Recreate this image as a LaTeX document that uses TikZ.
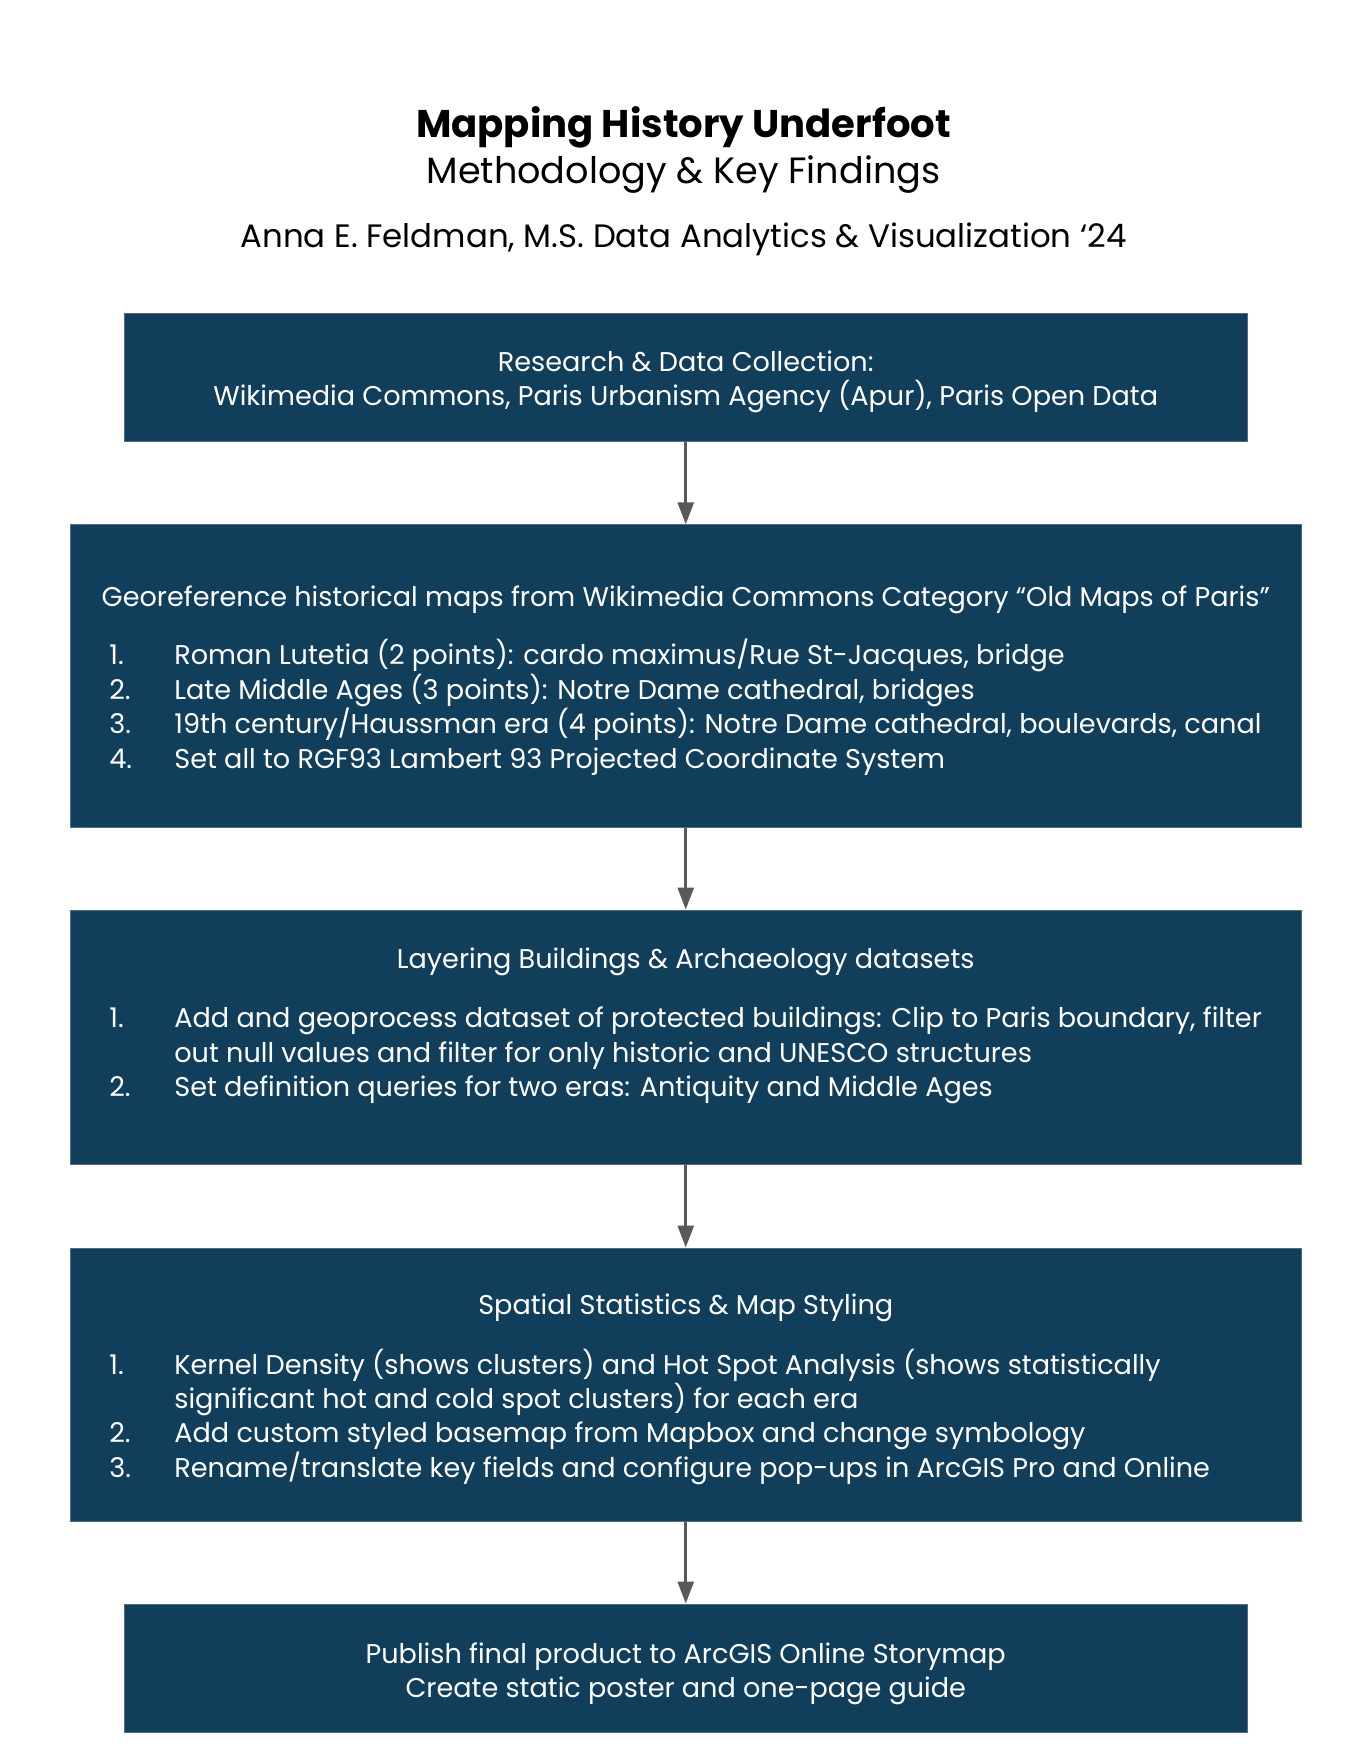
\documentclass[tikz,border=0pt]{standalone}
\usepackage{fontspec}
\setmainfont{Poppins}
\usetikzlibrary{arrows.meta}
\definecolor{boxc}{RGB}{17,63,91}
\definecolor{boxedge}{RGB}{80,110,130}
\definecolor{arrc}{RGB}{89,89,89}
\begin{document}
\begin{tikzpicture}[x=0.5pt,y=-0.5pt,
  boxstyle/.style={fill=boxc, draw=boxedge, line width=0.5pt, inner sep=0pt},
  bodytxt/.style={text=white, inner sep=0pt, font=\fontsize{13.55}{16}\selectfont},
  ctxt/.style={bodytxt, anchor=mid},
  ltxt/.style={bodytxt, anchor=mid west},
  flow/.style={draw=arrc, line width=1.5pt, -{Triangle[width=8pt,length=11pt]}}]
\useasboundingbox (0,0) rectangle (1367,1760);
\fill[white] (0,0) rectangle (1367,1760);
% titles
\node[anchor=mid, inner sep=0pt, font=\fontsize{19.3}{23}\bfseries\selectfont] (title) at (683.5,132) {Mapping History Underfoot};
\node[anchor=mid, inner sep=0pt, font=\fontsize{18.3}{22}\selectfont] (subtitle) at (683.5,178) {Methodology \& Key Findings};
\node[anchor=mid, inner sep=0pt, font=\fontsize{16.2}{19}\selectfont] (author) at (683.5,242.5) {Anna E. Feldman, M.S. Data Analytics \& Visualization ‘24};
% boxes
\node[boxstyle, minimum width=561.75pt, minimum height=63.65pt] (b1) at (685.75,377.35) {};
\node[boxstyle, minimum width=615.75pt, minimum height=151.25pt] (b2) at (685.75,676) {};
\node[boxstyle, minimum width=615.75pt, minimum height=127.25pt] (b3) at (685.75,1037.25) {};
\node[boxstyle, minimum width=615.75pt, minimum height=136.5pt] (b4) at (685.75,1384.5) {};
\node[boxstyle, minimum width=561.75pt, minimum height=64pt] (b5) at (685.75,1668) {};
% arrows
\draw[flow] (b1.south) -- (b2.north);
\draw[flow] (b2.south) -- (b3.north);
\draw[flow] (b3.south) -- (b4.north);
\draw[flow] (b4.south) -- (b5.north);
% box 1
\node[ctxt] (b1a) at (685.75,366.5) {Research \& Data Collection:};
\node[ctxt] (b1b) at (685.75,400.5) {Wikimedia Commons, Paris Urbanism Agency (Apur), Paris Open Data};
% box 2
\node[ctxt] (b2h) at (685.75,601.5) {Georeference historical maps from Wikimedia Commons Category “Old Maps of Paris”};
\node[ltxt] (b2n1) at (109,659.5) {1.};
\node[ltxt] (b2t1) at (174,659.5) {Roman Lutetia (2 points): cardo maximus/Rue St-Jacques, bridge};
\node[ltxt] (b2n2) at (109,694) {2.};
\node[ltxt] (b2t2) at (174,694) {Late Middle Ages (3 points): Notre Dame cathedral, bridges};
\node[ltxt] (b2n3) at (109,728.5) {3.};
\node[ltxt] (b2t3) at (174,728.5) {19th century/Haussman era (4 points): Notre Dame cathedral, boulevards, canal};
\node[ltxt] (b2n4) at (109,763) {4.};
\node[ltxt] (b2t4) at (174,763) {Set all to RGF93 Lambert 93 Projected Coordinate System};
% box 3
\node[ctxt] (b3h) at (685.75,963.5) {Layering Buildings \& Archaeology datasets};
\node[ltxt] (b3n1) at (109,1022.5) {1.};
\node[ltxt] (b3t1) at (174,1022.5) {Add and geoprocess dataset of protected buildings: Clip to Paris boundary, filter};
\node[ltxt] (b3t1b) at (174,1057) {out null values and filter for only historic and UNESCO structures};
\node[ltxt] (b3n2) at (109,1091) {2.};
\node[ltxt] (b3t2) at (174,1091) {Set definition queries for two eras: Antiquity and Middle Ages};
% box 4
\node[ctxt] (b4h) at (685.75,1309.5) {Spatial Statistics \& Map Styling};
\node[ltxt] (b4n1) at (109,1369) {1.};
\node[ltxt] (b4t1) at (174,1369) {Kernel Density (shows clusters) and Hot Spot Analysis (shows statistically};
\node[ltxt] (b4t1b) at (174,1403.5) {significant hot and cold spot clusters) for each era};
\node[ltxt] (b4n2) at (109,1437.5) {2.};
\node[ltxt] (b4t2) at (174,1437.5) {Add custom styled basemap from Mapbox and change symbology};
\node[ltxt] (b4n3) at (109,1472) {3.};
\node[ltxt] (b4t3) at (174,1472) {Rename/translate key fields and configure pop-ups in ArcGIS Pro and Online};
% box 5
\node[ctxt] (b5a) at (685.75,1657.5) {Publish final product to ArcGIS Online Storymap};
\node[ctxt] (b5b) at (685.75,1691.5) {Create static poster and one-page guide};
\end{tikzpicture}
\end{document}
